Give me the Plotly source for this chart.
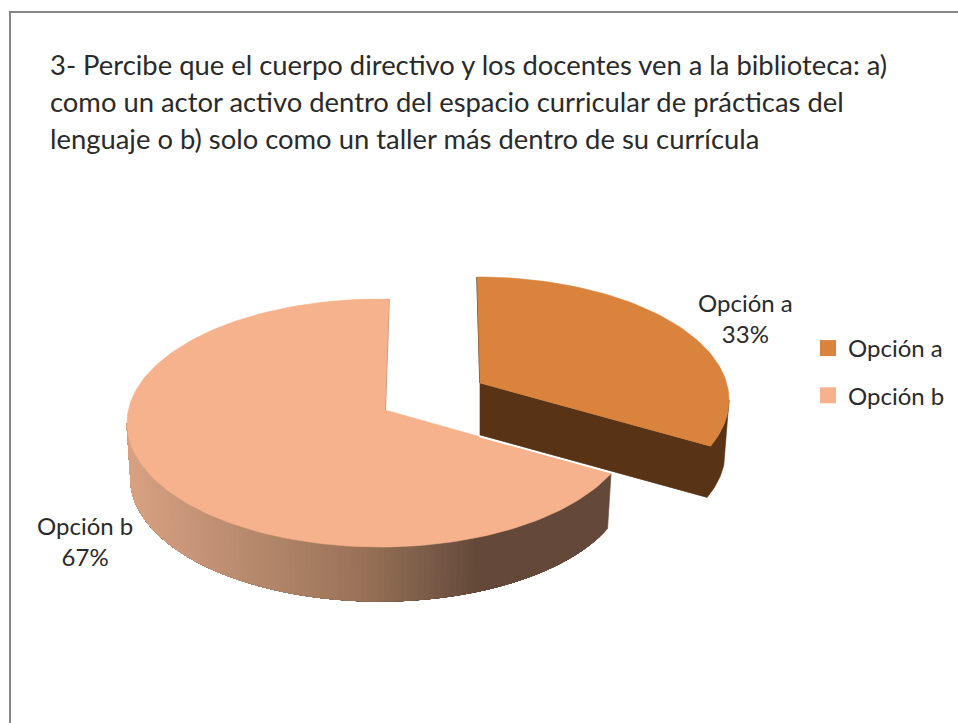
import numpy as np
import plotly.graph_objects as go

# ---- data ----
categories = ["Opción a", "Opción b"]
values = [33, 67]
title_lines = [
    "3- Percibe que el cuerpo directivo y los docentes ven a la biblioteca: a)",
    "como un actor activo dentro del espacio curricular de prácticas del",
    "lenguaje o b) solo como un taller más dentro de su currícula",
]

# ---- styling / projection parameters (pixel space of the 958x723 picture) ----
W, H = 958, 723
FONT = "Lato"
TEXT = "#2a2a2a"
TOP_A, WALL_A, TOP_B = "#D9833D", "#583316", "#F6B28C"
ROT = {"a": 0.0, "b": -2.0}
GEOM = {
    "a": dict(cx=477, cy=400, rx=252, ry=123, ax=480, ay=383, depth=52),
    "b": dict(cx=380, cy=423, rx=253, ry=124, ax=385, ay=410, depth=56),
}
BOTTOM_SCALE = 0.985
GRAD_X = [127, 280, 360, 420, 480, 611]
GRAD_C = [(217, 162, 131), (176, 132, 104), (156, 115, 89), (127, 96, 76), (100, 73, 58), (101, 74, 60)]


def warp(theta):
    """Perspective skew of a true pie angle (deg) on the tilted disc."""
    return theta - 8 * np.sin(np.radians(2 * (90 - theta)))


def rim(g, t, bottom=False):
    t = np.radians(t)
    s = BOTTOM_SCALE if bottom else 1.0
    dy = g["depth"] if bottom else 0
    return g["cx"] + g["rx"] * s * np.cos(t), g["cy"] + dy + g["ry"] * s * np.sin(-t)


def poly(x, y, color, line=None):
    return go.Scatter(x=list(x), y=list(y), mode="lines", fill="toself", fillcolor=color,
                      line=dict(color=line or color, width=0.6), showlegend=False, hoverinfo="skip")


def seg(x, y, color, width):
    return go.Scatter(x=list(x), y=list(y), mode="lines", line=dict(color=color, width=width),
                      showlegend=False, hoverinfo="skip")


total = sum(values)
sweep_a = 360 * values[0] / total
a_true = np.linspace(90, 90 - sweep_a, 80)
b_true = np.linspace(90 - sweep_a, 90 - 360, 160)
a_t = warp(a_true) + ROT["a"]
b_t = warp(b_true) + ROT["b"]

fig = go.Figure()
ga, gb = GEOM["a"], GEOM["b"]

# --- slice b: curved wall with horizontal gradient (painted right to left, each
#     band covering everything still to come, so no seams appear between bands) ---
wall_t = np.linspace(b_t[0], -180, 121)
for t0 in wall_t[:-1]:
    ts = np.linspace(t0, -180, 60)
    tx, ty = rim(gb, ts)
    ux, uy = rim(gb, ts, True)
    c = [int(np.interp(rim(gb, t0)[0], GRAD_X, [k[i] for k in GRAD_C])) for i in range(3)]
    col = f"rgb({c[0]},{c[1]},{c[2]})"
    fig.add_trace(poly(np.r_[tx, ux[::-1], tx[0]], np.r_[ty, uy[::-1], ty[0]], col))

# --- slice b: top face ---
bx, by = rim(gb, b_t)
seg_x, seg_y = rim(gb, b_t[-1])
fig.add_trace(seg([gb["ax"], seg_x], [gb["ay"], seg_y], "#C39273", 2))
fig.add_trace(poly(np.r_[gb["ax"], bx, gb["ax"]], np.r_[gb["ay"], by, gb["ay"]], TOP_B))

# --- slice a: cut face and outer wall as one polygon ---
end_t = a_t[-1]
w_t = np.linspace(end_t, 0, 30)
wx, wy = rim(ga, w_t)
wbx, wby = rim(ga, w_t, True)
fig.add_trace(poly(np.r_[ga["ax"], wx, wbx[::-1], ga["ax"], ga["ax"]],
                   np.r_[ga["ay"], wy, wby[::-1], ga["ay"] + ga["depth"], ga["ay"]], WALL_A))
fig.add_trace(seg([ga["ax"] - 0.5, wbx[0]], [ga["ay"] + ga["depth"] + 1.5, wby[0] + 1.5], "white", 1.5))

# --- slice a: top face ---
ax_, ay_ = rim(ga, a_t)
fig.add_trace(seg([ga["ax"], ax_[0]], [ga["ay"], ay_[0]], WALL_A, 1.5))
fig.add_trace(poly(np.r_[ga["ax"], ax_, ga["ax"]], np.r_[ga["ay"], ay_, ga["ay"]], TOP_A))

# --- legend entries ---
for name, col in zip(categories, [TOP_A, TOP_B]):
    fig.add_trace(go.Scatter(x=[None], y=[None], mode="markers", name=name, legendgroup=name,
                             marker=dict(symbol="square", size=16, color=col)))

# --- data labels ---
LABEL_POS = [(745, 318), (85, 541)]
for name, v, (lx, ly) in zip(categories, values, LABEL_POS):
    fig.add_annotation(x=lx, y=ly, text=f"{name}<br>{v}%", showarrow=False, align="center",
                       font=dict(family=FONT, size=24, color=TEXT))

# --- title ---
for i, line in enumerate(title_lines):
    fig.add_annotation(x=48, y=64.5 + 37 * i, text=line, showarrow=False, xanchor="left", yanchor="middle",
                       font=dict(family=FONT, size=27.4, color=TEXT))

fig.add_shape(type="rect", x0=10, y0=12, x1=W + 10, y1=H + 10,
              line=dict(color="#868686", width=2), layer="below")

fig.update_layout(
    width=W, height=H, margin=dict(l=0, r=0, t=0, b=0),
    paper_bgcolor="white", plot_bgcolor="white",
    xaxis=dict(range=[0, W], visible=False, fixedrange=True),
    yaxis=dict(range=[H, 0], visible=False, fixedrange=True),
    legend=dict(x=808 / W, y=1 - 326 / H, xanchor="left", yanchor="top", tracegroupgap=13,
                bgcolor="rgba(0,0,0,0)", font=dict(family=FONT, size=24, color=TEXT)),
    showlegend=True,
)
fig.write_html("out.html", config={"displayModeBar": False},
               post_script="document.body.style.margin='0';")
